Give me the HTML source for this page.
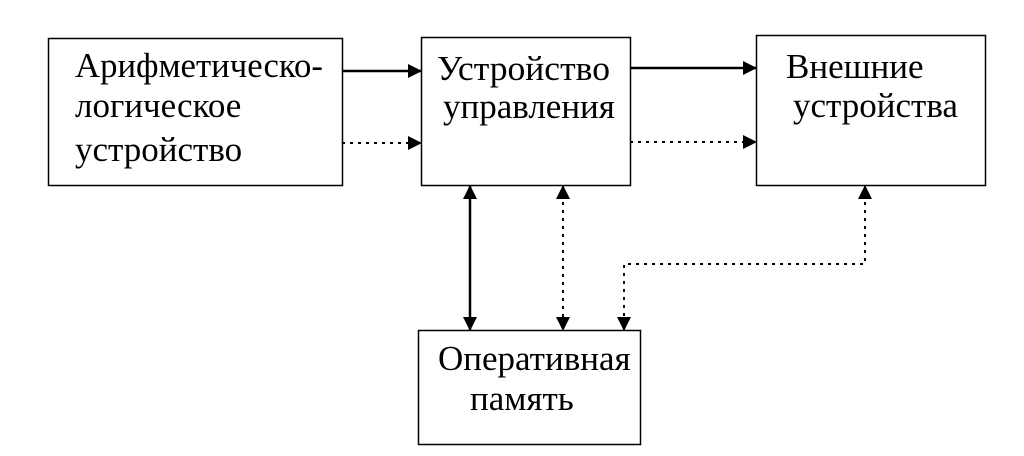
<!DOCTYPE html>
<html><head><meta charset="utf-8"><style>
html,body{margin:0;padding:0;background:#fff;}
svg{display:block}
text{font-family:"Liberation Serif","Noto Serif CJK SC",serif;font-size:35px;fill:#000}
</style></head><body>
<svg width="1024" height="456" viewBox="0 0 1024 456" xmlns="http://www.w3.org/2000/svg">
<defs>
<marker id="as" markerWidth="14" markerHeight="14" refX="13" refY="7" orient="auto-start-reverse" markerUnits="userSpaceOnUse" viewBox="0 0 14 14">
<path d="M0,0 L14,7 L0,14 z" fill="#000"/></marker>
</defs>
<g fill="none" stroke="#000" stroke-width="1.5">
<rect x="48.5" y="38.5" width="294" height="147"/>
<rect x="421.5" y="37.5" width="209" height="148"/>
<rect x="756.5" y="35.5" width="229" height="150"/>
<rect x="418.5" y="330.5" width="222" height="114"/>
</g>
<g stroke="#000" fill="none">
<line x1="342" y1="71" x2="421" y2="71" stroke-width="2.5" marker-end="url(#as)"/>
<line x1="342" y1="143" x2="421" y2="143" stroke-width="2" stroke-dasharray="3,5" marker-end="url(#as)"/>
<line x1="630" y1="68" x2="756" y2="68" stroke-width="2.5" marker-end="url(#as)"/>
<line x1="630" y1="142" x2="756" y2="142" stroke-width="2" stroke-dasharray="3,5" marker-end="url(#as)"/>
<line x1="470" y1="186" x2="470" y2="330" stroke-width="2.5" marker-start="url(#as)" marker-end="url(#as)"/>
<line x1="563" y1="186" x2="563" y2="330" stroke-width="2" stroke-dasharray="3,5" marker-start="url(#as)" marker-end="url(#as)"/>
<polyline points="865,186 865,264 624,264 624,330" stroke-width="2" stroke-dasharray="3,5" marker-start="url(#as)" marker-end="url(#as)"/>
</g>
<text x="75" y="77" textLength="248" lengthAdjust="spacingAndGlyphs">Арифметическо-</text>
<text x="75" y="117">логическое</text>
<text x="75" y="161">устройство</text>
<text x="437" y="80" textLength="173" lengthAdjust="spacingAndGlyphs">Устройство</text>
<text x="443" y="118">управления</text>
<text x="786" y="78">Внешние</text>
<text x="793" y="117">устройства</text>
<text x="438" y="370">Оперативная</text>
<text x="470" y="410">память</text>
</svg>
</body></html>
